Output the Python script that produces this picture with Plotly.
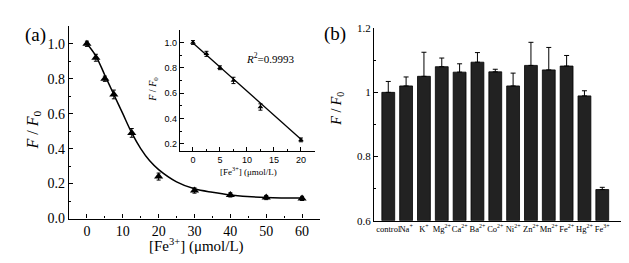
import plotly.graph_objects as go

# ---------- data ----------
# panel (a) main
conc = [0, 2.5, 5, 7.5, 12.5, 20, 30, 40, 50, 60]
ratio = [1.0, 0.92, 0.80, 0.71, 0.49, 0.24, 0.16, 0.135, 0.12, 0.115]
ratio_err = [0.015, 0.02, 0.015, 0.025, 0.025, 0.02, 0.015, 0.012, 0.012, 0.012]
fit_x = [0, 2.5, 5, 7.5, 10, 12.5, 15, 17.5, 20, 25, 30, 35, 40, 50, 60]
fit_y = [1.0, 0.93, 0.82, 0.71, 0.60, 0.49, 0.40, 0.33, 0.28, 0.21, 0.17, 0.15, 0.135, 0.12, 0.117]

# panel (a) inset
in_conc = [0, 2.5, 5, 7.5, 12.5, 20]
in_ratio = [1.0, 0.91, 0.80, 0.70, 0.49, 0.23]
in_err = [0.015, 0.02, 0.015, 0.025, 0.025, 0.015]
lin_x = [0, 20]
lin_y = [0.995, 0.235]

# panel (b)
ions = ["control", "Na<sup>+</sup>", "K<sup>+</sup>", "Mg<sup>2+</sup>", "Ca<sup>2+</sup>",
        "Ba<sup>2+</sup>", "Co<sup>2+</sup>", "Ni<sup>2+</sup>", "Zn<sup>2+</sup>",
        "Mn<sup>2+</sup>", "Fe<sup>2+</sup>", "Hg<sup>2+</sup>", "Fe<sup>3+</sup>"]
ion_vals = [1.0, 1.02, 1.05, 1.08, 1.063, 1.094, 1.064, 1.02, 1.084, 1.07, 1.082, 0.989, 0.697]
ion_err = [0.034, 0.028, 0.075, 0.027, 0.026, 0.03, 0.008, 0.04, 0.072, 0.07, 0.033, 0.016, 0.007]

W, H = 629, 263
def px(x): return x / W
def py(y): return 1 - y / H

SERIF = "Liberation Serif"
fig = go.Figure()

fig.add_trace(go.Scatter(x=fit_x, y=fit_y, mode="lines", line=dict(color="black", width=1.5, shape="spline"),
                         xaxis="x", yaxis="y", showlegend=False))
fig.add_trace(go.Scatter(x=conc, y=ratio, mode="markers",
                         marker=dict(symbol="triangle-up", size=8, color="black"),
                         error_y=dict(type="data", array=ratio_err, color="black", thickness=1, width=2),
                         xaxis="x", yaxis="y", showlegend=False))
fig.add_trace(go.Scatter(x=lin_x, y=lin_y, mode="lines", line=dict(color="black", width=1.3),
                         xaxis="x2", yaxis="y2", showlegend=False))
fig.add_trace(go.Scatter(x=in_conc, y=in_ratio, mode="markers",
                         marker=dict(symbol="triangle-up", size=5, color="black"),
                         error_y=dict(type="data", array=in_err, color="black", thickness=1, width=2),
                         xaxis="x2", yaxis="y2", showlegend=False))
fig.add_trace(go.Bar(x=list(range(len(ions))), y=[v - 0.6 for v in ion_vals], base=0.6, width=0.72,
                     marker=dict(color="#222222", line=dict(color="black", width=0.8)),
                     error_y=dict(type="data", array=ion_err, arrayminus=[0] * len(ions), color="black", thickness=1, width=2.5),
                     xaxis="x3", yaxis="y3", showlegend=False))

axcommon = dict(showgrid=False, zeroline=False, showline=True, linecolor="black", linewidth=1.2,
                ticks="inside", tickcolor="black", ticklen=4)
minor = lambda d: dict(ticks="inside", ticklen=2, dtick=d, tickcolor="black")

fig.update_layout(
    width=W, height=H, margin=dict(l=0, r=0, t=0, b=0),
    paper_bgcolor="white", plot_bgcolor="rgba(0,0,0,0)",
    xaxis=dict(**axcommon, domain=[px(61), px(312)], range=[-5, 65], tickvals=[0, 10, 20, 30, 40, 50, 60],
               tickfont=dict(family=SERIF, size=14, color="black"), anchor="y", minor=minor(5)),
    yaxis=dict(**axcommon, domain=[py(216), py(13)], range=[0, 1.1], tickvals=[0, 0.2, 0.4, 0.6, 0.8, 1.0],
               ticktext=["0.0", "0.2", "0.4", "0.6", "0.8", "1.0"],
               tickfont=dict(family=SERIF, size=14, color="black"), anchor="x", minor=minor(0.1)),
    xaxis2=dict(**axcommon, domain=[px(172), px(307)], range=[-2.4, 22.6], tickvals=[0, 5, 10, 15, 20],
                tickfont=dict(family="Liberation Sans", size=9, color="black"), anchor="y2", minor=minor(2.5)),
    yaxis2=dict(**axcommon, domain=[py(145), py(16.7)], range=[0.14, 1.1], tickvals=[0.2, 0.4, 0.6, 0.8, 1.0],
                ticktext=["0.2", "0.4", "0.6", "0.8", "1.0"],
                tickfont=dict(family="Liberation Sans", size=9, color="black"), anchor="x2", minor=minor(0.1)),
    xaxis3=dict(showgrid=False, zeroline=False, showline=True, linecolor="black", linewidth=1.2, ticks="",
                domain=[px(366), px(613)], range=[-0.8, 13.05], tickvals=list(range(len(ions))), tickangle=0,
                ticktext=ions, tickfont=dict(family=SERIF, size=8.5, color="black"), anchor="y3"),
    yaxis3=dict(**axcommon, domain=[py(218.3), py(15)], range=[0.6, 1.2], tickvals=[0.6, 0.8, 1.0, 1.2],
                tickfont=dict(family=SERIF, size=11, color="black"), anchor="x3", minor=minor(0.1)),
)

ann = [
    dict(text="(a)", x=px(27), y=py(22), font=dict(family=SERIF, size=19)),
    dict(text="(b)", x=px(327), y=py(21), font=dict(family=SERIF, size=19)),
    dict(text="<i>F</i> / <i>F</i><sub>0</sub>", x=px(25), y=py(123), textangle=-90, font=dict(family=SERIF, size=16)),
    dict(text="[Fe<sup>3+</sup>] (μmol/L)", x=px(188), y=py(245), font=dict(family=SERIF, size=15)),
    dict(text="<i>F</i> / <i>F</i><sub>0</sub>", x=px(146), y=py(80), textangle=-90, font=dict(family=SERIF, size=10)),
    dict(text="[Fe<sup>3+</sup>] (μmol/L)", x=px(240), y=py(166), font=dict(family=SERIF, size=9)),
    dict(text="<i>R</i><sup>2</sup>=0.9993", x=px(262), y=py(46), font=dict(family=SERIF, size=11)),
    dict(text="<i>F</i> / <i>F</i><sub>0</sub>", x=px(330), y=py(100), textangle=-90, font=dict(family=SERIF, size=14)),
]
for a in ann:
    a.update(xref="paper", yref="paper", showarrow=False, xanchor="center", yanchor="middle")
    a["font"]["color"] = "black"
fig.update_layout(annotations=ann)

fig.write_html("out.html")
